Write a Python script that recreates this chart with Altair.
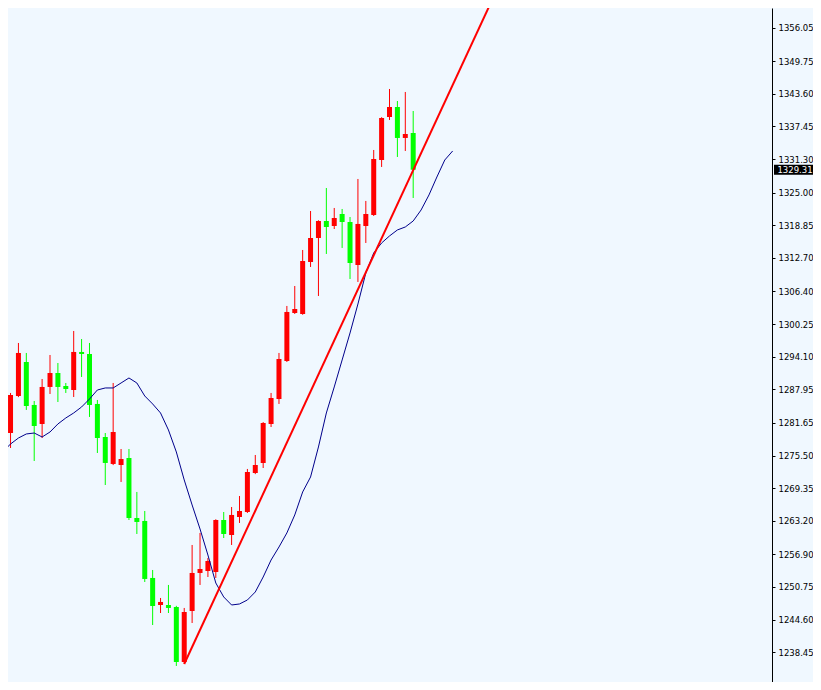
import altair as alt
import pandas as pd

# ---- data (prices) ----
opens = [1279.74, 1286.71, 1293.11, 1285.02, 1281.44, 1288.41, 1291.04, 1288.59, 1287.84, 1295.00,
         1294.62, 1285.21, 1278.99, 1273.91, 1273.72, 1275.04, 1263.74, 1263.18, 1252.45, 1247.36,
         1247.36, 1246.98, 1236.63, 1246.23, 1253.39, 1253.76, 1253.57, 1263.36, 1260.54, 1263.93,
         1264.87, 1272.21, 1274.10, 1281.44, 1286.14, 1293.30, 1302.34, 1302.15, 1311.94, 1316.46,
         1319.66, 1318.72, 1320.98, 1319.47, 1311.37, 1318.72, 1320.79, 1331.14, 1339.24, 1341.12,
         1335.29, 1336.23]
highs = [1287.28, 1296.69, 1294.81, 1285.77, 1289.91, 1294.43, 1292.92, 1289.16, 1298.95, 1297.44,
         1296.69, 1285.96, 1279.74, 1289.16, 1276.73, 1276.73, 1268.64, 1265.06, 1253.95, 1248.68,
         1251.13, 1247.20, 1246.80, 1258.66, 1260.92, 1256.21, 1263.50, 1264.87, 1265.81, 1267.88,
         1272.97, 1275.60, 1281.80, 1287.28, 1294.81, 1303.66, 1307.42, 1314.20, 1321.54, 1319.80,
         1325.87, 1322.11, 1321.92, 1320.41, 1327.57, 1323.43, 1333.03, 1339.20, 1344.51, 1342.25,
         1343.95, 1340.37]
lows = [1276.92, 1286.50, 1284.08, 1274.47, 1278.80, 1287.09, 1285.58, 1287.28, 1286.52, 1290.29,
        1282.76, 1275.98, 1269.95, 1273.70, 1270.52, 1263.36, 1260.73, 1251.69, 1243.59, 1245.85,
        1245.85, 1235.88, 1236.25, 1243.97, 1251.13, 1252.63, 1252.45, 1259.97, 1258.66, 1262.80,
        1264.68, 1272.00, 1273.15, 1280.87, 1285.21, 1293.11, 1302.15, 1302.00, 1311.00, 1305.54,
        1313.45, 1318.15, 1314.58, 1308.74, 1308.18, 1315.52, 1320.60, 1329.83, 1338.68, 1331.71,
        1332.84, 1323.99]
closes = [1286.90, 1294.81, 1284.83, 1281.06, 1288.41, 1291.04, 1288.41, 1288.03, 1295.00, 1294.62,
          1285.02, 1278.80, 1274.10, 1279.93, 1274.85, 1263.74, 1262.99, 1252.26, 1247.17, 1247.93,
          1246.80, 1236.63, 1246.04, 1253.39, 1254.14, 1255.65, 1263.36, 1260.73, 1264.31, 1265.06,
          1272.40, 1273.72, 1281.63, 1286.33, 1293.68, 1302.53, 1303.09, 1312.13, 1316.46, 1319.66,
          1318.53, 1320.22, 1319.47, 1311.75, 1319.10, 1320.98, 1331.33, 1339.05, 1341.12, 1335.29,
          1336.04, 1329.31]

# shifted moving average, bars -1 .. 56
ma_start_bar = -1
ma_values = [1276.17, 1277.67, 1278.80, 1279.56, 1279.74, 1278.99, 1279.93, 1281.44, 1282.57, 1283.51,
             1284.64, 1286.14, 1287.84, 1288.22, 1288.22, 1289.16, 1290.10, 1289.16, 1286.71, 1285.21,
             1283.51, 1280.31, 1276.17, 1270.90, 1266.19, 1261.67, 1256.77, 1251.50, 1248.87, 1247.36,
             1247.55, 1248.30, 1249.81, 1252.63, 1255.83, 1258.28, 1260.92, 1264.31, 1268.64, 1271.46,
             1277.11, 1283.51, 1288.41, 1293.49, 1298.57, 1304.03, 1309.87, 1313.64, 1315.52, 1316.84,
             1317.97, 1318.53, 1319.66, 1321.73, 1324.56, 1327.94, 1331.14, 1332.84]

trend_bars = [22, 63]
trend_prices = [1236.25, 1367.70]

tick_values = [1356.05, 1349.75, 1343.60, 1337.45, 1331.30, 1325.00, 1318.85, 1312.70, 1306.40,
               1300.25, 1294.10, 1287.95, 1281.65, 1275.50, 1269.35, 1263.20, 1256.90, 1250.75,
               1244.60, 1238.45, 1232.15]
last_price = 1329.31

# ---- tables ----
candles = pd.DataFrame({
    "bar": list(range(len(opens))),
    "open": opens, "high": highs, "low": lows, "close": closes,
})
candles["dir"] = ["up" if c >= o else "down" for o, c in zip(opens, closes)]
ma = pd.DataFrame({"bar": list(range(ma_start_bar, ma_start_bar + len(ma_values))), "ma": ma_values})
trend = pd.DataFrame({"bar": trend_bars, "price": trend_prices})
last = pd.DataFrame({"price": [last_price], "label": [f"{last_price:.2f}"]})

BG = "#F0F8FF"
FONT = "DejaVu Sans"

xs = alt.Scale(domain=[0.3125, 95.8125], nice=False, zero=False)
ys = alt.Scale(domain=[1232.86, 1359.76], nice=False, zero=False)
color = alt.Color("dir:N", scale=alt.Scale(domain=["up", "down"], range=["#FF0000", "#00FF00"]), legend=None)

X = alt.X("bar:Q", scale=xs, axis=None)
yaxis = alt.Axis(orient="right", values=tick_values, format=".2f", title=None, grid=False,
                 domainColor="#000000", domainWidth=1, tickColor="#000000", tickSize=3, tickWidth=1,
                 labelPadding=3, labelColor="#000000", labelFont=FONT, labelFontSize=8.5,
                 labelOverlap=False, labelFlush=False, labelBound=False)


def Y(field):
    return alt.Y(field, scale=ys, axis=yaxis)


base = alt.Chart(candles)
wicks = base.mark_rule(strokeWidth=1, clip=True).encode(
    x=X, y=Y("low:Q"), y2="high:Q", color=color)
bodies = base.mark_bar(size=5, clip=True).encode(
    x=X, y=Y("open:Q"), y2="close:Q", color=color)
ma_line = alt.Chart(ma).mark_line(color="#00008B", strokeWidth=1, clip=True).encode(
    x=X, y=Y("ma:Q"))
trend_line = alt.Chart(trend).mark_line(color="#FF0000", strokeWidth=2, clip=True).encode(
    x=X, y=Y("price:Q"))

price_box = alt.Chart(last).mark_tick(orient="horizontal", size=42, thickness=10, color="#000000",
                                      opacity=1).encode(
    x=alt.value(787), y=Y("price:Q"))
price_text = alt.Chart(last).mark_text(color="#FFFFFF", font=FONT, fontSize=8.5, align="center",
                                       baseline="middle").encode(
    x=alt.value(787), y=Y("price:Q"), text="label:N")

chart = alt.layer(wicks, bodies, ma_line, trend_line, price_box, price_text).properties(
    width=764, height=674,
    autosize=alt.AutoSizeParams(type="none"),
    padding={"left": 0, "top": 0, "right": 41, "bottom": 0},
    background=BG,
).configure_view(stroke=None, fill=BG).configure_axis(labelOverlap=False)

chart.save("out.html", embed_options={"renderer": "svg", "actions": False})
